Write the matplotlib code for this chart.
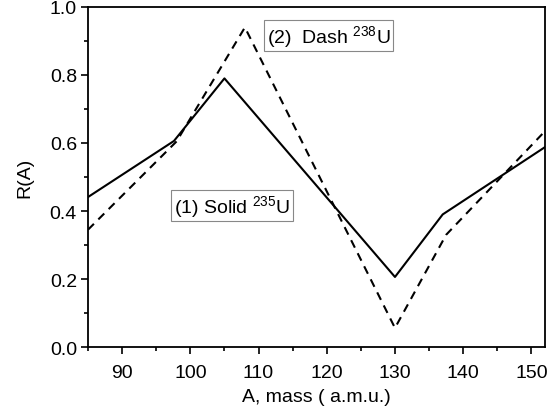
import matplotlib
matplotlib.use("Agg")
import matplotlib.pyplot as plt
from matplotlib.ticker import MultipleLocator

plt.rcParams['font.family'] = ['Liberation Sans', 'DejaVu Sans']
plt.rcParams['mathtext.fontset'] = 'custom'
plt.rcParams['mathtext.rm'] = 'Liberation Sans'
plt.rcParams['mathtext.it'] = 'Liberation Sans'

# Data
solid_A = [85, 97.6, 105, 130, 137, 152]
solid_R = [0.441, 0.606, 0.79, 0.206, 0.39, 0.588]
dash_A = [85, 98, 108, 130, 137.5, 152]
dash_R = [0.345, 0.605, 0.94, 0.056, 0.33, 0.635]

label1 = "(1) Solid $^{235}$U"
label2 = "(2)  Dash $^{238}$U"

fig = plt.figure(figsize=(5.48, 4.14), dpi=100)
ax = fig.add_axes([0.1606, 0.1594, 0.834, 0.8213])
ax.plot(solid_A, solid_R, color='black', lw=1.5, ls='-')
ax.plot(dash_A, dash_R, color='black', lw=1.5, ls=(0, (4, 3)))

ax.set_xlim(85, 152)
ax.set_ylim(0, 1.0)
ax.xaxis.set_major_locator(MultipleLocator(10))
ax.xaxis.set_minor_locator(MultipleLocator(5))
ax.yaxis.set_major_locator(MultipleLocator(0.2))
ax.yaxis.set_minor_locator(MultipleLocator(0.1))
ax.yaxis.set_major_formatter(matplotlib.ticker.FormatStrFormatter('%.1f'))
ax.tick_params(which='major', direction='out', length=5, width=1.2, labelsize=14, pad=3)
ax.tick_params(axis='x', which='major', pad=7)
ax.tick_params(which='minor', direction='out', length=3, width=1.2)
for s in ax.spines.values():
    s.set_linewidth(1.3)

ax.set_xlabel("A, mass ( a.m.u.)", fontsize=14, labelpad=5)
ax.set_ylabel("R(A)", fontsize=14, labelpad=12)

bb = dict(boxstyle='square,pad=0.15', facecolor='white', edgecolor='#888888', lw=0.8)
ax.text(97.6, 0.416, label1, fontsize=14, ha='left', va='center', bbox=bb)
ax.text(111.2, 0.916, label2, fontsize=14, ha='left', va='center', bbox=bb)

fig.savefig("out.png", dpi=100)
